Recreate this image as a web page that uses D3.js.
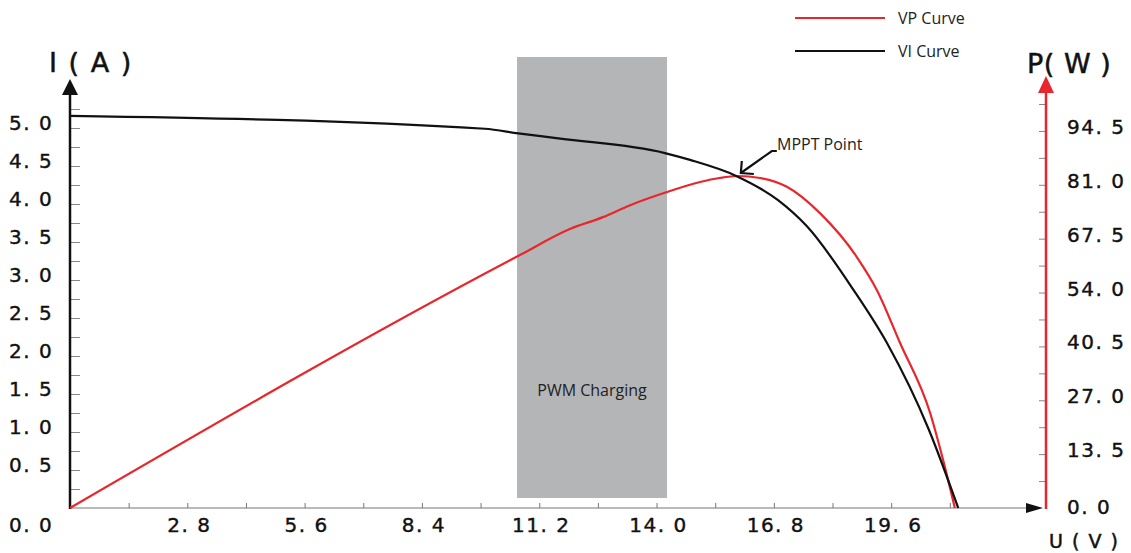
<!DOCTYPE html>
<html>
<head>
<meta charset="utf-8">
<script src="https://cdn.jsdelivr.net/npm/d3@7"></script>
<style>
  body { margin: 0; background: #fff; }
  .tick-label { font-family: "DejaVu Sans", Verdana, sans-serif; font-size: 20px; fill: #111; stroke: #111; stroke-width: 0.4px; letter-spacing: 1.5px; }
  .title { font-family: "DejaVu Sans", sans-serif; fill: #111; stroke: #111; stroke-width: 0.5px; }
  .note { font-family: "Open Sans", "Noto Sans", sans-serif; font-size: 16px; fill: #222; }
</style>
</head>
<body>
<div id="chart"></div>
<script>
// VI curve (black) - voltage in V, current in A
var viVolt = [0, 9.9, 10.7, 11.7, 14.2, 14.8, 15.9, 16.9, 17.6, 18.7, 19.5, 20.5, 21.2];
var viAmp  = [5.16, 4.99, 4.93, 4.86, 4.67, 4.58, 4.37, 4.05, 3.70, 2.87, 2.17, 1.03, 0];

// VP curve (red) - voltage in V, power in W
var vpVolt = [0, 10.74, 11.93, 12.72, 13.37, 14.25, 15.04, 15.5, 15.94, 16.47, 17.11, 17.9, 18.78, 19.26, 19.81, 20.53, 20.84, 21.12];
var vpWatt = [0, 63.4, 69.9, 72.9, 75.9, 79.2, 81.7, 82.7, 83.2, 82.7, 80.5, 73.9, 62.9, 54.6, 41.4, 23.8, 12.0, 0];

// tick labels
var xLabels = [2.8, 5.6, 8.4, 11.2, 14.0, 16.8, 19.6];
var iLabels = [0.0, 0.5, 1.0, 1.5, 2.0, 2.5, 3.0, 3.5, 4.0, 4.5, 5.0];
var pLabels = [0.0, 13.5, 27.0, 40.5, 54.0, 67.5, 81.0, 94.5];

// PWM charging band (V) and MPPT point
var pwmBand = [10.67, 14.25];
var mppt = {v: 15.94, p: 83.2};

var width = 1131, height = 553;

var svg = d3.select("#chart")
  .append("svg")
    .attr("width", width)
    .attr("height", height);

// scales
var x = d3.scaleLinear().domain([0, 23.2]).range([70, 1042]);
var yI = d3.scaleLinear().domain([0, 5.25]).range([508, 109]);
var yP = d3.scaleLinear().domain([0, 101.25]).range([508, 104]);

function fmt(v) {
  var s = v.toFixed(1).split(".");
  return s[0] + ". " + s[1];
}

// PWM band
svg.append("rect")
  .attr("x", x(pwmBand[0]))
  .attr("y", 57)
  .attr("width", x(pwmBand[1]) - x(pwmBand[0]))
  .attr("height", 498 - 57)
  .attr("fill", "#b4b5b7");

svg.append("text")
  .attr("class", "note")
  .attr("x", (x(pwmBand[0]) + x(pwmBand[1])) / 2)
  .attr("y", 396)
  .attr("text-anchor", "middle")
  .text("PWM Charging");

// X axis
var xAxis = svg.append("g")
  .attr("transform", "translate(0,508)")
  .call(d3.axisTop(x).tickValues(d3.range(1, 16).map(function(k) { return k * 1.4; })).tickSize(5).tickFormat(""));
xAxis.select(".domain").remove();
xAxis.selectAll(".tick line").attr("stroke", "#777");

svg.append("line")
  .attr("x1", x(0)).attr("x2", 1030)
  .attr("y1", 508).attr("y2", 508)
  .attr("stroke", "#777").attr("stroke-width", 1.2);
svg.append("path")
  .attr("d", "M1043,508 L1026,503 L1026,513 Z")
  .attr("fill", "#111");

svg.selectAll(".xlab")
  .data(xLabels)
  .enter().append("text")
    .attr("class", "tick-label")
    .attr("x", function(d) { return x(d) + 2; })
    .attr("y", 532)
    .attr("text-anchor", "middle")
    .text(fmt);

// left I axis
var iAxis = svg.append("g")
  .attr("transform", "translate(70,0)")
  .call(d3.axisRight(yI).tickValues(d3.range(1, 22).map(function(k) { return k * 0.25; })).tickSize(10).tickFormat(""));
iAxis.select(".domain").remove();
iAxis.selectAll(".tick line").attr("stroke", "#888");

svg.append("line")
  .attr("x1", 70).attr("x2", 70)
  .attr("y1", 509).attr("y2", 92)
  .attr("stroke", "#111").attr("stroke-width", 2.5);
svg.append("path")
  .attr("d", "M70,79 L62,95 L78,95 Z")
  .attr("fill", "#111");

svg.selectAll(".ilab")
  .data(iLabels)
  .enter().append("text")
    .attr("class", "tick-label")
    .attr("x", 9)
    .attr("y", function(d) { return d === 0 ? yI(d) + 24 : yI(d) + 2; })
    .text(fmt);

svg.append("text")
  .attr("class", "title")
  .attr("x", 49).attr("y", 72)
  .style("font-size", "27px")
  .style("letter-spacing", "1.5px")
  .text("I ( A )");

// right P axis
var pAxis = svg.append("g")
  .attr("transform", "translate(1046,0)")
  .call(d3.axisLeft(yP).tickValues(d3.range(1, 16).map(function(k) { return k * 6.75; })).tickSize(7).tickFormat(""));
pAxis.select(".domain").remove();
pAxis.selectAll(".tick line").attr("stroke", "#888");

svg.append("line")
  .attr("x1", 1046).attr("x2", 1046)
  .attr("y1", 509).attr("y2", 90)
  .attr("stroke", "#e8262b").attr("stroke-width", 2.5);
svg.append("path")
  .attr("d", "M1046,76 L1038,93 L1054,93 Z")
  .attr("fill", "#e8262b");

svg.selectAll(".plab")
  .data(pLabels)
  .enter().append("text")
    .attr("class", "tick-label")
    .attr("x", 1067)
    .attr("y", function(d) { return d === 0 ? yP(d) + 6 : yP(d) + 3; })
    .text(fmt);

svg.append("text")
  .attr("class", "title")
  .attr("x", 1027).attr("y", 73)
  .style("font-size", "27px")
  .style("letter-spacing", "0.5px")
  .text("P( W )");

svg.append("text")
  .attr("class", "title")
  .attr("x", 1049).attr("y", 548)
  .style("font-size", "19px")
  .style("letter-spacing", "1.5px")
  .text("U ( V )");

// curves
var viLine = d3.line()
  .x(function(d, i) { return x(viVolt[i]); })
  .y(function(d) { return yI(d); })
  .curve(d3.curveMonotoneX);

var vpLine = d3.line()
  .x(function(d, i) { return x(vpVolt[i]); })
  .y(function(d) { return yP(d); })
  .curve(d3.curveMonotoneX);

svg.append("path")
  .attr("d", vpLine(vpWatt))
  .attr("fill", "none")
  .attr("stroke", "#e8262b")
  .attr("stroke-width", 2.2);

svg.append("path")
  .attr("d", viLine(viAmp))
  .attr("fill", "none")
  .attr("stroke", "#111")
  .attr("stroke-width", 2.2);

// MPPT annotation
var tx = x(mppt.v) + 3, ty = yP(mppt.p) - 3;
svg.append("path")
  .attr("d", "M" + (tx + 36) + "," + (ty - 22) + " L" + (tx + 31) + "," + (ty - 22) + " L" + tx + "," + ty)
  .attr("fill", "none").attr("stroke", "#111").attr("stroke-width", 2.2);
svg.append("path")
  .attr("d", "M" + (tx + 1) + "," + (ty - 12) + " L" + tx + "," + ty + " L" + (tx + 13) + "," + (ty + 1))
  .attr("fill", "none").attr("stroke", "#111").attr("stroke-width", 2.2);

svg.append("text")
  .attr("class", "note")
  .attr("x", 777).attr("y", 150)
  .text("MPPT Point");

// legend
var legend = [{name: "VP Curve", color: "#e8262b"}, {name: "VI Curve", color: "#111"}];
var lg = svg.selectAll(".legend")
  .data(legend)
  .enter().append("g")
    .attr("transform", function(d, i) { return "translate(795," + (18 + i * 33) + ")"; });
lg.append("line")
  .attr("x1", 0).attr("x2", 90)
  .attr("stroke", function(d) { return d.color; })
  .attr("stroke-width", 2);
lg.append("text")
  .attr("class", "note")
  .attr("x", 103).attr("y", 6)
  .text(function(d) { return d.name; });
</script>
</body>
</html>
